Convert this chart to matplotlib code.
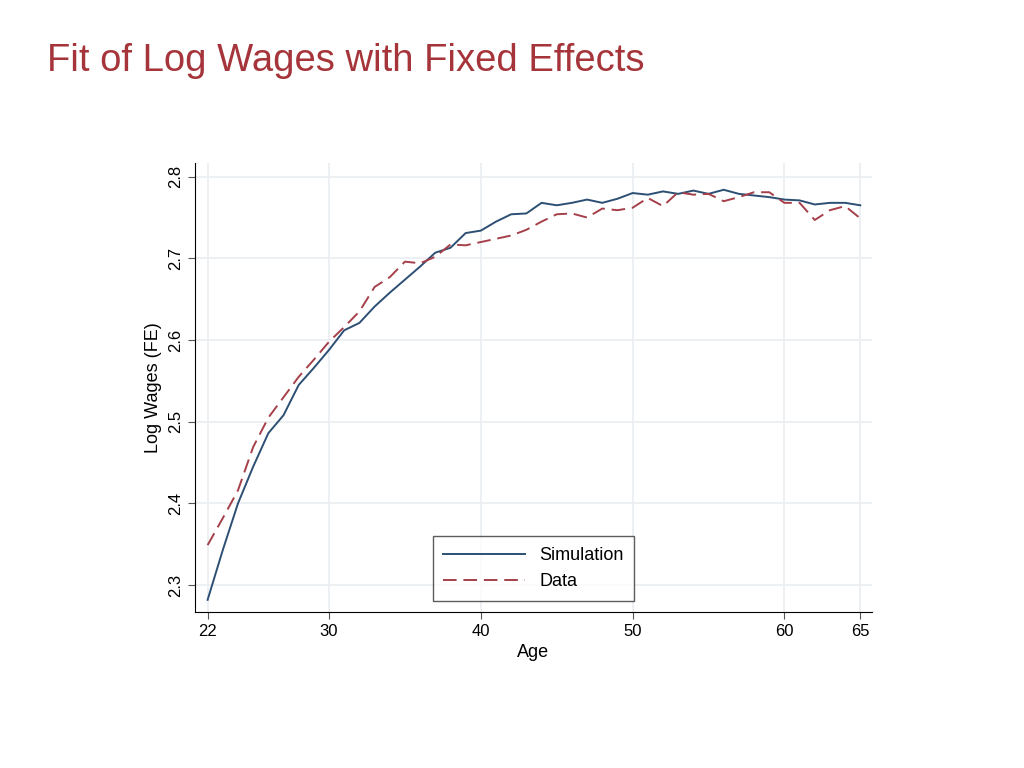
import matplotlib.pyplot as plt

ages = list(range(22, 66))
simulation = [2.282, 2.343, 2.400, 2.445, 2.486, 2.508, 2.545, 2.566, 2.588, 2.612,
              2.621, 2.641, 2.658, 2.674, 2.690, 2.707, 2.713, 2.731, 2.734, 2.745,
              2.754, 2.755, 2.768, 2.765, 2.768, 2.772, 2.768, 2.773, 2.780, 2.778,
              2.782, 2.779, 2.783, 2.779, 2.784, 2.779, 2.777, 2.775, 2.772, 2.771,
              2.766, 2.768, 2.768, 2.765]
data = [2.349, 2.382, 2.416, 2.469, 2.505, 2.530, 2.555, 2.576, 2.598, 2.616,
        2.635, 2.665, 2.677, 2.696, 2.694, 2.702, 2.717, 2.716, 2.720, 2.724,
        2.728, 2.735, 2.745, 2.754, 2.755, 2.750, 2.761, 2.759, 2.762, 2.774,
        2.764, 2.781, 2.778, 2.779, 2.770, 2.775, 2.781, 2.781, 2.768, 2.768,
        2.747, 2.759, 2.764, 2.749]
x_ticks = [22, 30, 40, 50, 60, 65]
y_ticks = [2.3, 2.4, 2.5, 2.6, 2.7, 2.8]

plt.rcParams['font.family'] = 'Liberation Sans'
fig = plt.figure(figsize=(10.24, 7.68), dpi=100)
fig.text(0.046, 0.92, "Fit of Log Wages with Fixed Effects", fontsize=27.5, color='#a5353a', va='center')

ax = fig.add_axes([0.19, 0.203, 0.662, 0.585])
ax.plot(ages, simulation, color='#2c4f73', lw=1.4, label='Simulation')
ax.plot(ages, data, color='#a5404a', lw=1.4, dashes=(7, 3.5), label='Data')

ax.set_xlim(21.14, 65.8)
ax.set_ylim(2.267, 2.817)
ax.set_xticks(x_ticks)
ax.set_yticks(y_ticks)
ax.set_yticklabels([f'{v:.1f}' for v in y_ticks], rotation=90, va='center')
ax.tick_params(labelsize=12, color='#555555', length=5)
ax.grid(True, color='#eaeef1', lw=1.2)
for s in ['top', 'right']:
    ax.spines[s].set_visible(False)
ax.set_xlabel('Age', fontsize=13)
ax.set_ylabel('Log Wages (FE)', fontsize=13)

ax.legend(loc='lower center', bbox_to_anchor=(0.5, 0.005), fontsize=13, frameon=True, fancybox=False,
          edgecolor='#333333', handlelength=4.5, borderpad=0.6)

fig.savefig('out.png', dpi=100, facecolor='white')
